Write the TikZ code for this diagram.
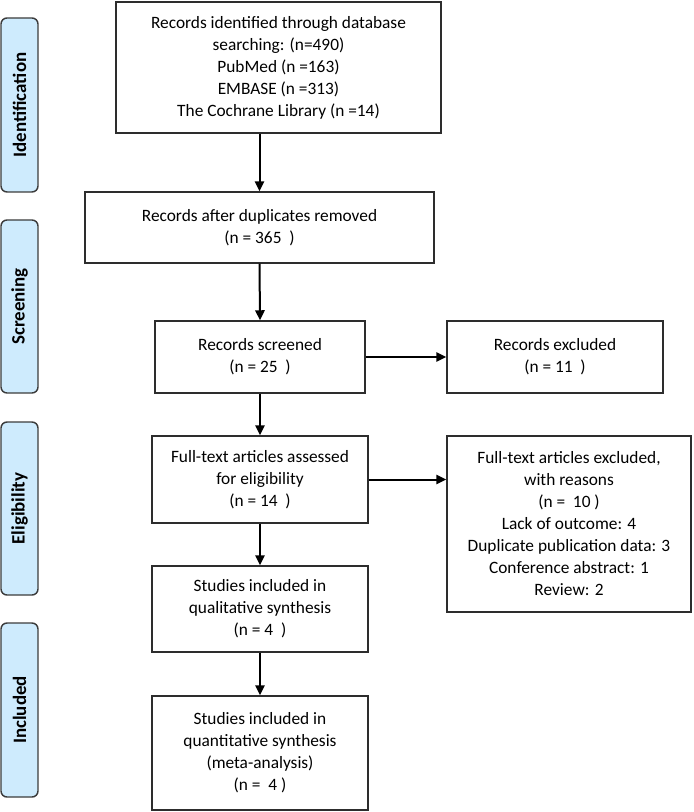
\documentclass[tikz,border=0pt]{standalone}
\usepackage{fontspec}
\setmainfont{Carlito}
\usetikzlibrary{arrows.meta}
\definecolor{phasefill}{RGB}{206,235,253}
\definecolor{phaseedge}{RGB}{60,60,60}
\definecolor{boxedge}{RGB}{45,45,45}
\begin{document}
\begin{tikzpicture}[x=0.75pt,y=-0.75pt,
  flowbox/.style={draw=boxedge,line width=1.1pt,rectangle,align=center,inner sep=0pt,
    font=\fontsize{13}{16.5}\selectfont},
  phase/.style={draw=phaseedge,fill=phasefill,line width=1.1pt,rounded corners=4.5pt,
    minimum width=27.75pt,inner sep=0pt,
    font=\fontsize{14.2}{16}\selectfont\bfseries},
  flowarrow/.style={line width=1.5pt,-{Triangle[length=7.5pt,width=7pt]}}]
\useasboundingbox (0,0) rectangle (693,812);
% phase labels
\node[phase,minimum height=174*0.75pt] (pid) at (19.5,105) {};
\node[rotate=90,font=\fontsize{14.2}{16}\selectfont\bfseries] (tid) at (pid.center) {Identification};
\node[phase,minimum height=173*0.75pt] (psc) at (19.5,306.5) {};
\node[rotate=90,font=\fontsize{14.2}{16}\selectfont\bfseries] (tsc) at (psc.center) {Screening};
\node[phase,minimum height=173*0.75pt] (pel) at (19.5,508.5) {};
\node[rotate=90,font=\fontsize{14.2}{16}\selectfont\bfseries] (tel) at (pel.center) {Eligibility};
\node[phase,minimum height=174*0.75pt] (pin) at (19.5,710) {};
\node[rotate=90,font=\fontsize{14.2}{16}\selectfont\bfseries] (tin) at (pin.center) {Included};
% boxes
\node[flowbox,minimum width=325*0.75pt,minimum height=131*0.75pt] (id) at (278.5,67.5)
  {Records identified through database\\searching: (n=490)\\PubMed (n =163)\\EMBASE (n =313)\\The Cochrane Library (n =14)};
\node[flowbox,minimum width=349*0.75pt,minimum height=71*0.75pt] (dup) at (259.5,227.5)
  {Records after duplicates removed\\(n = 365\ \ )};
\node[flowbox,minimum width=210*0.75pt,minimum height=72*0.75pt] (scr) at (260,357)
  {Records screened\\(n = 25\ \ )};
\node[flowbox,minimum width=216*0.75pt,minimum height=72*0.75pt] (excl) at (555,357)
  {Records excluded\\(n = 11\ \ )};
\node[flowbox,minimum width=216*0.75pt,minimum height=87*0.75pt] (ft) at (260,479.5)
  {Full-text articles assessed\\for eligibility\\(n = 14\ \ )};
\node[flowbox,minimum width=244*0.75pt,minimum height=176*0.75pt] (ftex) at (569,524)
  {Full-text articles excluded,\\with reasons\\(n =\ \ 10 )\\Lack of outcome: 4\\Duplicate publication data: 3\\Conference abstract: 1\\Review: 2};
\node[flowbox,minimum width=216*0.75pt,minimum height=86*0.75pt] (qual) at (260,609)
  {Studies included in\\qualitative synthesis\\(n = 4\ \ )};
\node[flowbox,minimum width=216*0.75pt,minimum height=114*0.75pt] (quant) at (260,753)
  {Studies included in\\quantitative synthesis\\(meta-analysis)\\(n =\ \ 4 )};
% arrows
\draw[flowarrow] (dup.north |- id.south) -- (dup.north);
\draw[flowarrow] (dup.south) -- (scr.north);
\draw[flowarrow] (scr.east) -- (excl.west);
\draw[flowarrow] (scr.south) -- (ft.north);
\draw[flowarrow] (ft.east) -- (ft.east -| ftex.west);
\draw[flowarrow] (ft.south) -- (qual.north);
\draw[flowarrow] (qual.south) -- (quant.north);
\end{tikzpicture}
\end{document}
